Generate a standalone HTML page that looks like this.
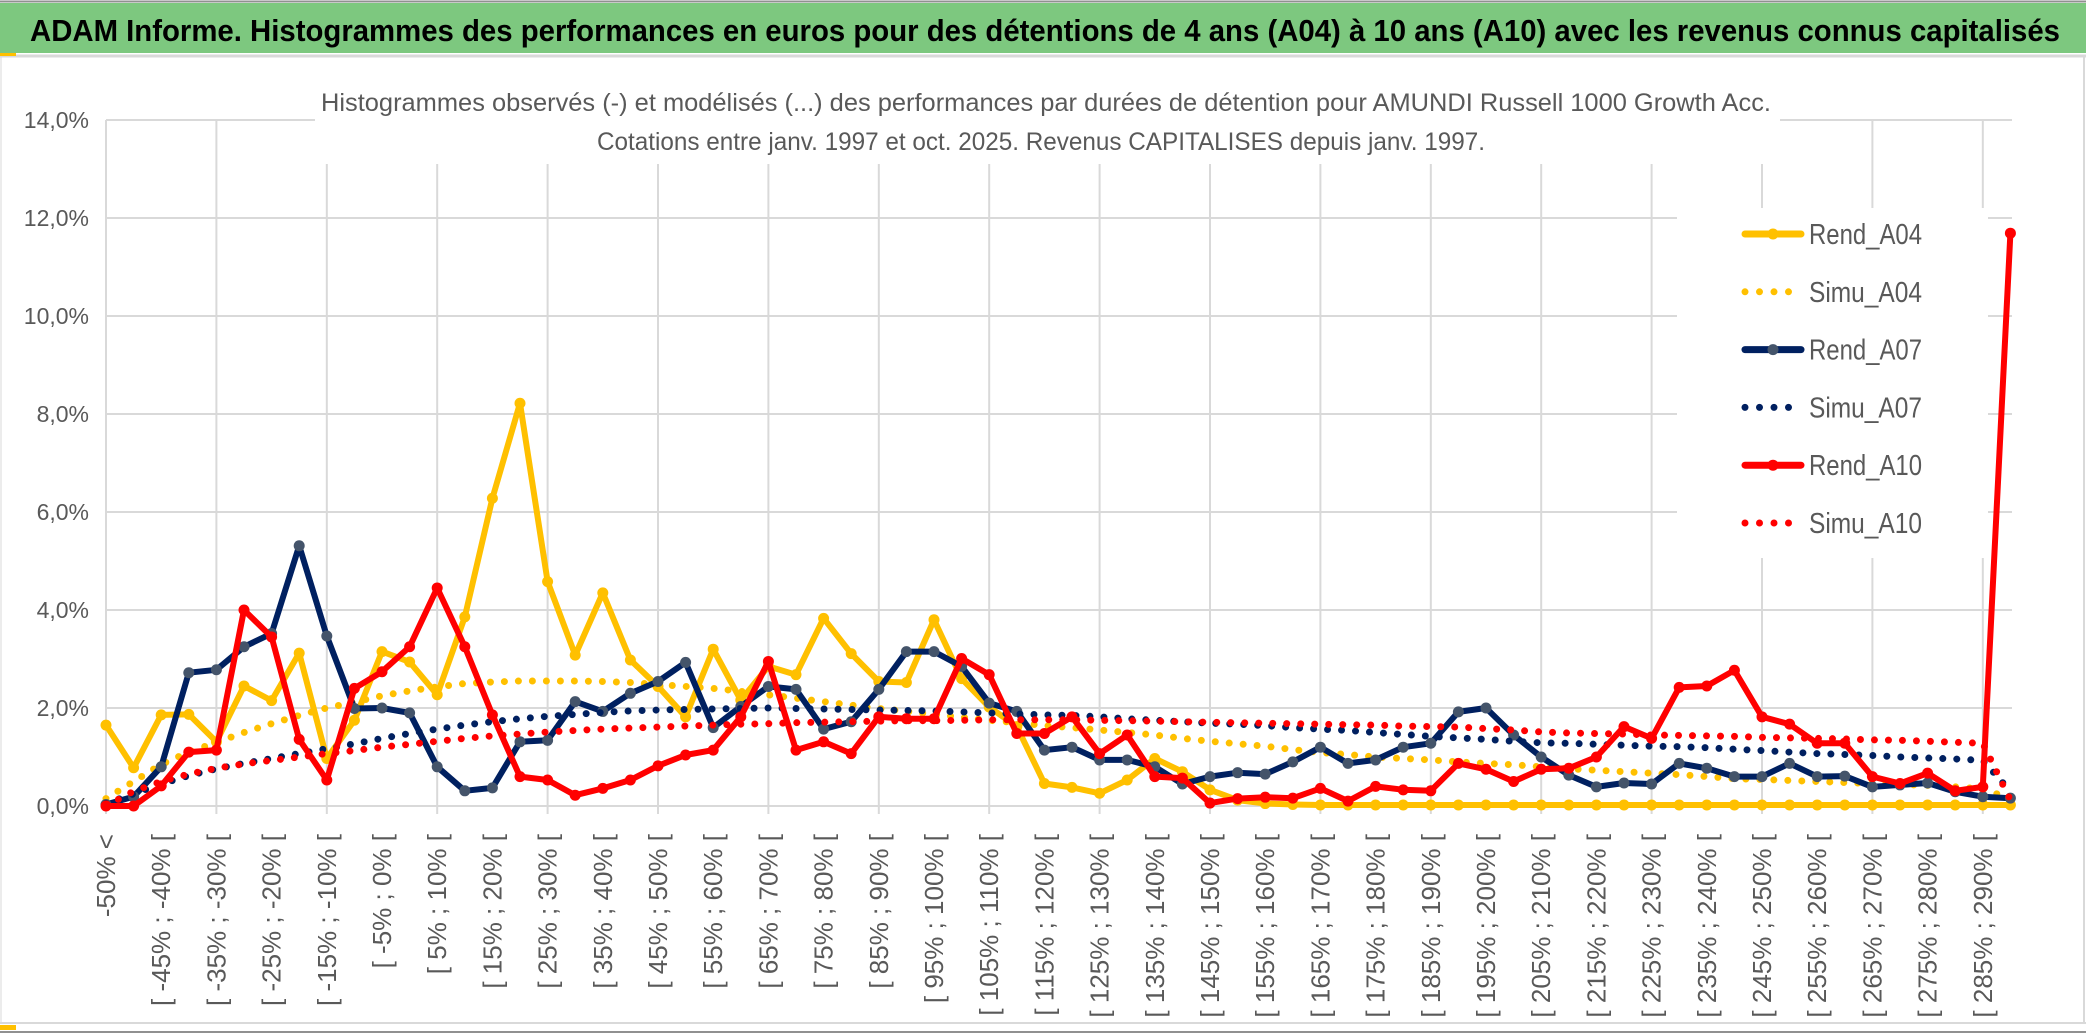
<!DOCTYPE html>
<html><head><meta charset="utf-8"><style>
html,body{margin:0;padding:0;background:#fff;}
svg{display:block;}
</style></head><body>
<svg id="chart" width="2086" height="1033" viewBox="0 0 2086 1033" xmlns="http://www.w3.org/2000/svg">
<rect x="0" y="0" width="2086" height="1033" fill="#ffffff"/>
<line x1="0" y1="1.5" x2="2086" y2="1.5" stroke="#909090" stroke-width="2"/>
<rect x="0" y="3" width="2086" height="50" fill="#7DC87F"/>
<text x="30" y="41" font-family="'Liberation Sans Narrow','Liberation Sans',sans-serif" font-weight="bold" font-size="31" fill="#000" textLength="2030" lengthAdjust="spacingAndGlyphs">ADAM Informe. Histogrammes des performances en euros pour des détentions de 4 ans (A04) à 10 ans (A10) avec les revenus connus capitalisés</text>
<line x1="0" y1="56" x2="2086" y2="56" stroke="#d9d9d9" stroke-width="3"/>
<rect x="0" y="53" width="16" height="3" fill="#FFC000"/>
<line x1="0" y1="1023" x2="2086" y2="1023" stroke="#d9d9d9" stroke-width="2"/>
<rect x="0" y="1025" width="16" height="5" fill="#FFC000"/>
<line x1="0" y1="1032" x2="2086" y2="1032" stroke="#909090" stroke-width="2"/>
<line x1="2084" y1="56" x2="2084" y2="1023" stroke="#d9d9d9" stroke-width="2"/>
<line x1="1" y1="56" x2="1" y2="1023" stroke="#d9d9d9" stroke-width="1"/>
<g id="grid"></g>
<rect x="315" y="84" width="1465" height="80" fill="#fff"/>
<text x="1046" y="111" text-anchor="middle" font-family="'Liberation Sans Narrow','Liberation Sans',sans-serif" font-size="25" fill="#595959" textLength="1450" lengthAdjust="spacingAndGlyphs">Histogrammes observés (-) et modélisés (...) des performances par durées de détention pour AMUNDI Russell 1000 Growth Acc.</text>
<text x="1041" y="150" text-anchor="middle" font-family="'Liberation Sans Narrow','Liberation Sans',sans-serif" font-size="25" fill="#595959" textLength="888" lengthAdjust="spacingAndGlyphs">Cotations entre janv. 1997 et oct. 2025. Revenus CAPITALISES depuis janv. 1997.</text>
<g id="ylabels"></g>
<g id="xlabels"></g>
<g id="series"></g>
<g id="legend"></g>
</svg>
<script>
const categoriesLow = [];
for (let i = 0; i < 70; i++) categoriesLow.push(-55 + 5 * i);
const yTicks = [0, 2, 4, 6, 8, 10, 12, 14];
const yTickLabels = ["0,0%","2,0%","4,0%","6,0%","8,0%","10,0%","12,0%","14,0%"];
const rendA04 = [1.65,0.78,1.86,1.87,1.31,2.45,2.15,3.12,0.97,1.75,3.15,2.94,2.27,3.86,6.28,8.22,4.58,3.08,4.35,2.98,2.44,1.82,3.2,2.16,2.85,2.68,3.83,3.11,2.54,2.52,3.8,2.6,2.02,1.62,0.46,0.38,0.26,0.53,0.97,0.7,0.33,0.12,0.05,0.03,0.02,0.02,0.02,0.02,0.02,0.02,0.02,0.02,0.02,0.02,0.02,0.02,0.02,0.02,0.02,0.02,0.02,0.02,0.02,0.02,0.02,0.02,0.02,0.02,0.02,0.02];
const simuA04 = [0.15,0.5,0.85,1.1,1.3,1.5,1.68,1.85,2.0,2.12,2.25,2.35,2.43,2.5,2.53,2.55,2.55,2.55,2.54,2.52,2.48,2.44,2.4,2.34,2.27,2.2,2.13,2.06,1.99,1.93,1.87,1.81,1.75,1.7,1.64,1.6,1.55,1.5,1.45,1.38,1.32,1.27,1.22,1.15,1.09,1.05,1.0,0.97,0.94,0.9,0.87,0.84,0.8,0.76,0.73,0.7,0.67,0.64,0.6,0.56,0.54,0.52,0.5,0.48,0.46,0.44,0.42,0.39,0.35,0.15];
const rendA07 = [0.03,0.19,0.8,2.72,2.78,3.25,3.52,5.31,3.47,1.99,2.0,1.9,0.8,0.31,0.37,1.31,1.34,2.13,1.93,2.3,2.54,2.93,1.6,2.03,2.44,2.38,1.57,1.72,2.38,3.15,3.15,2.85,2.1,1.93,1.14,1.2,0.94,0.94,0.8,0.45,0.6,0.68,0.65,0.9,1.2,0.87,0.94,1.2,1.28,1.92,2.0,1.45,1.0,0.63,0.39,0.47,0.45,0.87,0.77,0.6,0.6,0.87,0.6,0.61,0.39,0.43,0.47,0.29,0.19,0.16];
const simuA07 = [0.05,0.25,0.45,0.62,0.76,0.87,0.97,1.07,1.17,1.27,1.38,1.48,1.57,1.65,1.72,1.78,1.83,1.87,1.91,1.94,1.96,1.97,1.98,1.99,2.0,1.99,1.98,1.97,1.96,1.95,1.94,1.92,1.9,1.88,1.86,1.85,1.82,1.78,1.75,1.72,1.69,1.67,1.64,1.6,1.57,1.54,1.5,1.46,1.42,1.39,1.36,1.32,1.29,1.28,1.26,1.24,1.22,1.21,1.19,1.16,1.13,1.1,1.07,1.05,1.03,1.0,0.98,0.96,0.93,0.3];
const rendA10 = [0.0,0.0,0.41,1.1,1.14,4.0,3.45,1.36,0.53,2.4,2.74,3.25,4.45,3.25,1.86,0.6,0.53,0.22,0.36,0.53,0.82,1.04,1.14,1.82,2.95,1.14,1.31,1.07,1.82,1.78,1.78,3.01,2.68,1.48,1.48,1.82,1.07,1.45,0.6,0.57,0.06,0.15,0.18,0.16,0.36,0.1,0.4,0.33,0.31,0.87,0.75,0.5,0.75,0.77,1.0,1.62,1.38,2.42,2.45,2.77,1.82,1.67,1.28,1.28,0.6,0.46,0.67,0.31,0.39,11.69];
const simuA10 = [0.0,0.3,0.5,0.65,0.77,0.86,0.93,1.0,1.07,1.13,1.2,1.26,1.32,1.38,1.43,1.47,1.51,1.54,1.57,1.59,1.61,1.63,1.65,1.67,1.68,1.7,1.71,1.72,1.73,1.74,1.74,1.75,1.76,1.76,1.76,1.76,1.75,1.74,1.73,1.72,1.71,1.7,1.69,1.68,1.67,1.66,1.65,1.63,1.62,1.61,1.58,1.55,1.51,1.49,1.48,1.47,1.45,1.44,1.43,1.42,1.4,1.39,1.38,1.37,1.35,1.34,1.32,1.3,1.28,0.12];

const NS = "http://www.w3.org/2000/svg";
const X0 = 106, DX = 27.6, Y0 = 806, YPX = 49;
function xScale(i){ return X0 + DX * i; }
function yScale(v){ return Y0 - v * YPX; }
function mk(tag, attrs, parent){ const e = document.createElementNS(NS, tag); for (const k in attrs) e.setAttribute(k, attrs[k]); parent.appendChild(e); return e; }
const FONT = "'Liberation Sans Narrow','Liberation Sans',sans-serif";

const grid = document.getElementById('grid');
yTicks.forEach((t) => {
  const l = mk('line', {x1: X0, x2: 2012, y1: yScale(t), y2: yScale(t), stroke: '#d9d9d9', 'stroke-width': 2}, grid);
  
  
});
for (let i = 0; i < categoriesLow.length; i += 4) {
  const l = mk('line', {x1: xScale(i), x2: xScale(i), y1: yScale(14), y2: Y0 + 8, stroke: '#d9d9d9', 'stroke-width': 2}, grid);
  
  
}
const ylab = document.getElementById('ylabels');
yTicks.forEach((t, k) => {
  const e = mk('text', {x: 89, y: yScale(t) + 8, 'text-anchor': 'end', 'font-family': FONT, 'font-size': 23, fill: '#595959'}, ylab);
  e.textContent = yTickLabels[k];
  
  
});
const xlab = document.getElementById('xlabels');
for (let i = 0; i < categoriesLow.length; i += 2) {
  const lo = categoriesLow[i];
  const txt = i === 0 ? '-50% <' : '[ ' + lo + '% ; ' + (lo + 5) + '% [';
  const x = xScale(i), y = 834;
  const e = mk('text', {x: x, y: y, 'text-anchor': 'end', 'font-family': "'Liberation Sans',sans-serif", 'font-size': 26, fill: '#595959', transform: 'rotate(-90 ' + x + ' ' + y + ')', dy: '9'}, xlab);
  e.textContent = txt;
  
  
}

const ser = document.getElementById('series');
function pts(arr){ return arr.map((v, i) => xScale(i).toFixed(1) + ',' + yScale(v).toFixed(1)).join(' '); }
function solid(arr, color, marker, name){
  const g = mk('g', {}, ser);
  
  
  mk('polyline', {points: pts(arr), fill: 'none', stroke: color, 'stroke-width': 6, 'stroke-linejoin': 'round', 'stroke-linecap': 'round'}, g);
  arr.forEach((v, i) => {
    const c = mk('circle', {cx: xScale(i), cy: yScale(v), r: 5.5, fill: marker}, g);
    
    
  });
}
function dotted(arr, color, name){
  const p = mk('polyline', {points: pts(arr), fill: 'none', stroke: color, 'stroke-width': 7, 'stroke-linecap': 'round', 'stroke-dasharray': '0 14'}, ser);
  
  
}
solid(rendA04, '#FFC000', '#FFC000', 'rend-a04-line');
dotted(simuA04, '#FFC000', 'simu-a04-line');
solid(rendA07, '#002060', '#44546A', 'rend-a07-line');
dotted(simuA07, '#002060', 'simu-a07-line');
solid(rendA10, '#FF0000', '#FF0000', 'rend-a10-line');
dotted(simuA10, '#FF0000', 'simu-a10-line');

const leg = document.getElementById('legend');
mk('rect', {x: 1677, y: 208, width: 311, height: 350, fill: '#fff'}, leg);
const legendNames = ['Rend_A04','Simu_A04','Rend_A07','Simu_A07','Rend_A10','Simu_A10'];
const legendColors = ['#FFC000','#FFC000','#002060','#002060','#FF0000','#FF0000'];
const legendMarkers = ['#FFC000',null,'#44546A',null,'#FF0000',null];
legendNames.forEach((n, k) => {
  const y = 234 + k * 57.8;
  const g = mk('g', {}, leg);
  
  
  if (legendMarkers[k]) {
    mk('line', {x1: 1745, x2: 1801, y1: y, y2: y, stroke: legendColors[k], 'stroke-width': 7, 'stroke-linecap': 'round'}, g);
    mk('circle', {cx: 1773, cy: y, r: 5.5, fill: legendMarkers[k]}, g);
  } else {
    mk('line', {x1: 1745, x2: 1800, y1: y, y2: y, stroke: legendColors[k], 'stroke-width': 7, 'stroke-linecap': 'round', 'stroke-dasharray': '0 14.5'}, g);
  }
  const t = mk('text', {x: 1809, y: y + 10, 'font-family': FONT, 'font-size': 29, fill: '#595959', textLength: 113, lengthAdjust: 'spacingAndGlyphs'}, g);
  t.textContent = n;
});
</script>
</body></html>
